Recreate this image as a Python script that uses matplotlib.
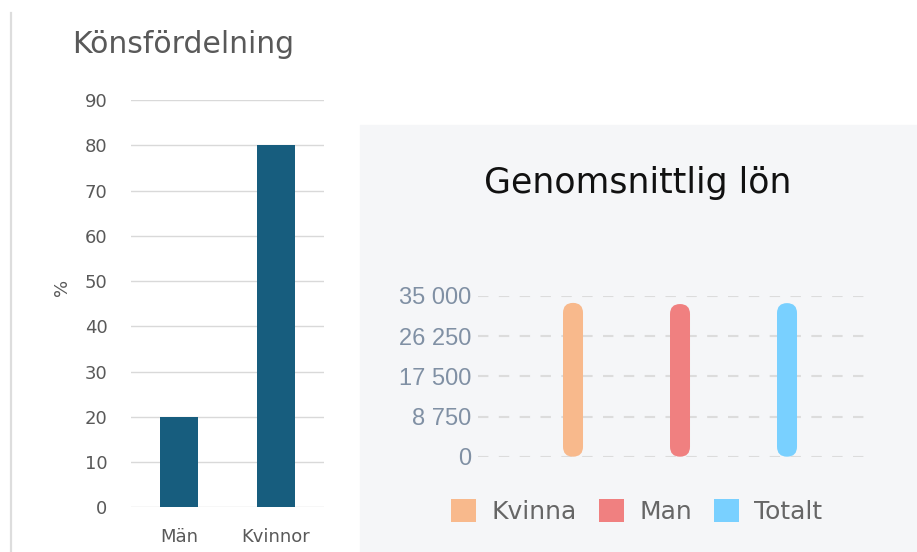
import matplotlib
matplotlib.use("Agg")
import matplotlib.pyplot as plt
from matplotlib.patches import Rectangle, FancyBboxPatch, Patch
from matplotlib.lines import Line2D

W, H = 917, 552

# left chart: gender split (%)
gender_labels = ["Män", "Kvinnor"]
gender_share = [20, 80]
share_ticks = [0, 10, 20, 30, 40, 50, 60, 70, 80, 90]

# right chart: average salary
salary_groups = ["Kvinna", "Man", "Totalt"]
salary_values = [33500, 33250, 33450]
salary_colors = ["#f8b98c", "#f08080", "#79d0ff"]
salary_ticks = [0, 8750, 17500, 26250, 35000]


def box(x0, y0, x1, y1):
    # pixel box (top-left origin) -> figure fraction rect
    return [x0 / W, 1 - y1 / H, (x1 - x0) / W, (y1 - y0) / H]


fig = plt.figure(figsize=(W / 100, H / 100), dpi=100)
fig.patch.set_facecolor("white")

# grey card behind the salary chart
fig.add_artist(Rectangle((360 / W, 0), (W - 360) / W, 1 - 125 / H,
                         transform=fig.transFigure, color="#f5f6f8", zorder=0))
# thin border on the left
fig.add_artist(Line2D([10.8 / W, 10.8 / W], [0, 1 - 13 / H],
                      transform=fig.transFigure, color="#dddddd", lw=1.6))

# ---- left chart
ax1 = fig.add_axes(box(131, 100, 324, 507.3))
ax1.bar(range(len(gender_share)), gender_share, width=0.39, color="#175d7e", zorder=3)
ax1.set_xlim(-0.5, 1.5)
ax1.set_ylim(0, 90)
ax1.set_yticks(share_ticks)
ax1.set_xticks(range(len(gender_labels)))
ax1.set_xticklabels(gender_labels)
ax1.grid(axis="y", color="#d9d9d9", lw=1.0, zorder=0)
for s in ax1.spines.values():
    s.set_visible(False)
ax1.tick_params(axis="y", length=0, pad=17, labelsize=13, labelcolor="#595959")
ax1.tick_params(axis="x", length=0, pad=15, labelsize=13, labelcolor="#595959")
ax1.set_facecolor("none")

fig.text(183.5 / W, 1 - 53.3 / H, "Könsfördelning", ha="center", va="baseline",
         fontsize=21.5, color="#595959")
fig.text(62 / W, 1 - 287 / H, "%", rotation=90, ha="center", va="center",
         fontsize=13, color="#595959")

# ---- right chart
ax2 = fig.add_axes(box(478, 296, 871, 456.7))
ax2.set_facecolor("none")
ax2.set_xlim(-0.888, 2.785)
ax2.set_ylim(0, 35000)
ax2.set_yticks(salary_ticks)
ax2.set_yticklabels([f"{t:,}".replace(",", " ") for t in salary_ticks],
                    family="Liberation Sans")
ax2.set_xticks([])
ax2.grid(axis="y", color="#dcdcdc", lw=1.5, linestyle=(0, (5, 5)), zorder=0)
for s in ax2.spines.values():
    s.set_visible(False)
ax2.tick_params(axis="y", length=0, pad=4.5, labelsize=17, labelcolor="#8090a4")

# rounded (pill) bars
p0 = ax2.transData.transform((0, 0))
p1 = ax2.transData.transform((1, 1))
aspect = (p1[0] - p0[0]) / (p1[1] - p0[1])
bw = 0.187
for i, (v, c) in enumerate(zip(salary_values, salary_colors)):
    ax2.add_patch(FancyBboxPatch((i - bw / 2, 0), bw, v,
                                 boxstyle=f"round,pad=0,rounding_size={bw / 2}",
                                 mutation_aspect=aspect, color=c, lw=0,
                                 zorder=3, clip_on=False))

fig.text(638 / W, 1 - 193 / H, "Genomsnittlig lön", ha="center", va="baseline",
         fontsize=25, color="#111111")

handles = [Patch(facecolor=c, edgecolor="none") for c in salary_colors]
leg = fig.legend(handles, salary_groups, loc="center", ncol=3,
                 bbox_to_anchor=(637 / W, 1 - 511.5 / H), frameon=False,
                 fontsize=18, handlelength=1.0, handleheight=1.0,
                 handletextpad=0.6, columnspacing=0.9)
for t in leg.get_texts():
    t.set_color("#666666")

fig.savefig("out.png", dpi=100)
